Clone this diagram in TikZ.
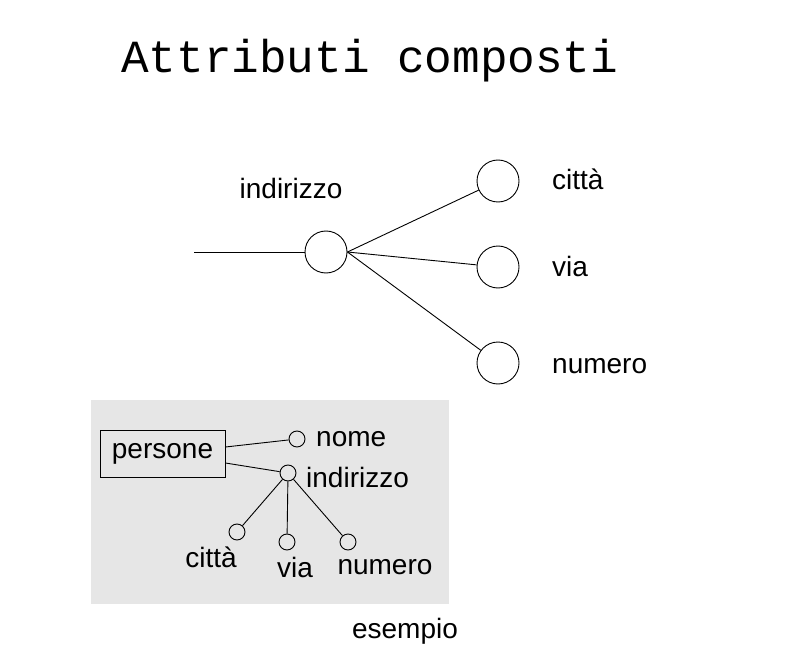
\documentclass[tikz,border=0pt]{standalone}
\usepackage{fontspec}
\setmainfont{Liberation Sans}
\newfontfamily\titlefont{Liberation Mono}
\definecolor{boxgray}{HTML}{E6E6E6}
\begin{document}
\begin{tikzpicture}[x=1pt,y=-1pt,
  lnk/.style={line width=0.9pt},
  bigc/.style={circle,draw,line width=0.9pt,minimum size=42pt,inner sep=0pt},
  smallc/.style={circle,draw,line width=0.9pt,minimum size=16pt,inner sep=0pt},
  lab/.style={font=\fontsize{28}{32}\selectfont,inner sep=0pt},
  slab/.style={font=\fontsize{28}{32}\selectfont,inner sep=0pt}]
\useasboundingbox (0,0) rectangle (811,655);
\node[anchor=base west,inner sep=0pt,font=\titlefont\fontsize{46}{54}\selectfont] (title) at (121,73) {Attributi composti};
% top diagram
\coordinate (start) at (194,252);
\node[bigc] (ind) at (326,252) {};
\node[bigc] (c1) at (498,181) {};
\node[bigc] (c2) at (498,267) {};
\node[bigc] (c3) at (498,363) {};
\node[lab,anchor=base] (lind) at (291,199) {indirizzo};
\node[lab,anchor=base west] (l1) at (552,190) {città};
\node[lab,anchor=base west] (l2) at (552,276) {via};
\node[lab,anchor=base west] (l3) at (552,373) {numero};
\draw[lnk] (start) -- (ind);
\draw[lnk] (ind.east) -- (c1);
\draw[lnk] (ind.east) -- (c2);
\draw[lnk] (ind.east) -- (c3);
% example box
\fill[boxgray] (91,400) rectangle (449,604);
\node[draw,line width=0.9pt,minimum width=125pt,minimum height=47pt,inner sep=0pt,slab] (pers) at (162.5,453.5) {persone};
\node[smallc] (nome) at (297,439) {};
\node[smallc] (sind) at (288,473) {};
\node[smallc] (sc1) at (237,532) {};
\node[smallc] (sc2) at (287,542) {};
\node[smallc] (sc3) at (348,542) {};
\node[slab,anchor=west] (lnome) at (316,439) {nome};
\node[slab,anchor=west] (lsind) at (306,477) {indirizzo};
\node[slab] (lsc1) at (211,557) {città};
\node[slab] (lsc2) at (295,567) {via};
\node[slab] (lsc3) at (385,567) {numero};
\draw[lnk] ([yshift=6.5pt]pers.east) -- (nome);
\draw[lnk] ([yshift=-9.5pt]pers.east) -- (sind);
\draw[lnk] (sind) -- (sc1);
\draw[lnk] (sind) -- (sc2);
\draw[lnk] (sind) -- (sc3);
\node[slab] (esempio) at (405,631) {esempio};
\end{tikzpicture}
\end{document}
